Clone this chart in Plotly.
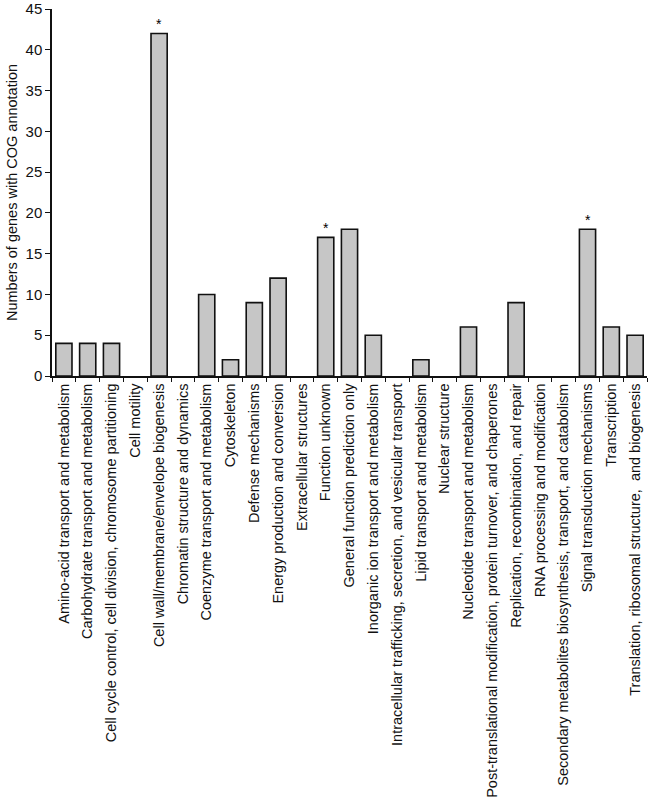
import plotly.graph_objects as go

categories = [
    "Amino-acid transport and metabolism",
    "Carbohydrate transport and metabolism",
    "Cell cycle control, cell division, chromosome partitioning",
    "Cell motility",
    "Cell wall/membrane/envelope biogenesis",
    "Chromatin structure and dynamics",
    "Coenzyme transport and metabolism",
    "Cytoskeleton",
    "Defense mechanisms",
    "Energy production and conversion",
    "Extracellular structures",
    "Function unknown",
    "General function prediction only",
    "Inorganic ion transport and metabolism",
    "Intracellular trafficking, secretion, and vesicular transport",
    "Lipid transport and metabolism",
    "Nuclear structure",
    "Nucleotide transport and metabolism",
    "Post-translational modification, protein turnover, and chaperones",
    "Replication, recombination, and repair",
    "RNA processing and modification",
    "Secondary metabolites biosynthesis, transport, and catabolism",
    "Signal transduction mechanisms",
    "Transcription",
    "Translation, ribosomal structure,  and biogenesis",
]
values = [4, 4, 4, 0, 42, 0, 10, 2, 9, 12, 0, 17, 18, 5, 0, 2, 0, 6, 0, 9, 0, 0, 18, 6, 5]
starred = ["Cell wall/membrane/envelope biogenesis", "Function unknown", "Signal transduction mechanisms"]
y_ticks = [0, 5, 10, 15, 20, 25, 30, 35, 40, 45]

# zero-count categories draw no bar at all
bar_y = [v if v > 0 else None for v in values]

fig = go.Figure()
fig.add_trace(go.Bar(
    x=categories, y=bar_y,
    marker=dict(color="#c6c6c6", line=dict(color="#111111", width=1.6)),
    width=0.68,
))

for c in starred:
    v = values[categories.index(c)]
    fig.add_annotation(x=c, y=v, text="*", showarrow=False, yanchor="bottom",
                       yshift=-1, font=dict(size=14, color="#000000"))

font = "Liberation Sans, Arial, sans-serif"
fig.update_layout(
    width=650, height=801,
    margin=dict(l=52, r=3, t=9, b=425),
    plot_bgcolor="white", paper_bgcolor="white",
    showlegend=False,
    font=dict(family=font, size=14.5, color="#111111"),
    xaxis=dict(
        type="category", tickangle=-90, showline=True, linecolor="#111111", linewidth=1.5,
        ticks="outside", tickson="boundaries", ticklen=4, tickcolor="#111111",
        tickfont=dict(family=font, size=14.5, color="#111111"), showgrid=False,
        range=[-0.5, len(categories) - 0.5], automargin=False, ticklabeloverflow="allow",
    ),
    yaxis=dict(
        range=[0, 45], tickvals=y_ticks, showline=True, linecolor="#111111", linewidth=1.5,
        ticks="outside", ticklen=5, tickcolor="#111111", showgrid=False, zeroline=False,
        tickfont=dict(family=font, size=15, color="#111111"), automargin=False,
        ticklabeloverflow="allow",
        title=dict(text="Numbers of genes with COG annotation", font=dict(family=font, size=14.5), standoff=4),
    ),
)

fig.write_html("out.html", config={"displayModeBar": False},
               post_script="document.body.style.margin='0';")
